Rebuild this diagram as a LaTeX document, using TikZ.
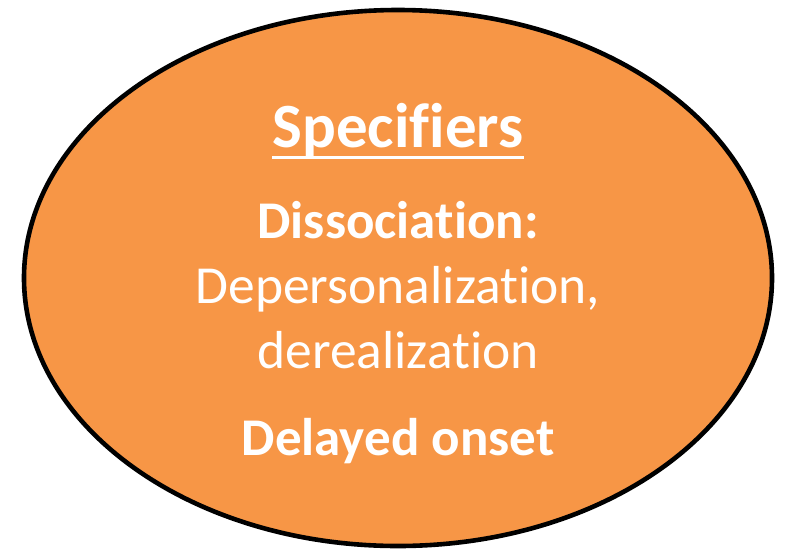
\documentclass[tikz,border=0pt]{standalone}
\usepackage{fontspec}
\setmainfont{Carlito}[Ligatures=NoCommon]
\usetikzlibrary{calc}
\definecolor{specorange}{HTML}{F79646}
\begin{document}
\begin{tikzpicture}[x=1pt,y=-1pt,
  label text/.style={text=white, anchor=base, inner sep=0pt},
  heading/.style={label text, font=\fontsize{63}{63}\selectfont\bfseries},
  boldline/.style={label text, font=\fontsize{53}{53}\selectfont\bfseries},
  plainline/.style={label text, font=\fontsize{53.5}{53.5}\selectfont}]
  \useasboundingbox (0,0) rectangle (787,550);
  % outer ellipse
  \draw[line width=4.6pt, fill=specorange] (398,278) ellipse [x radius=374, y radius=268];
  % heading with underline
  \node[heading] (title) at (398,147) {Specifiers};
  \draw[white, line width=3pt] ($(title.base west)+(0,10)$) -- ($(title.base east)+(0,10)$);
  % list of specifiers
  \node[boldline] (dissoc) at (398,238) {Dissociation:};
  \node[plainline] (deper) at (398,303) {Depersonalization,};
  \node[plainline] (dereal) at (398,368) {derealization};
  \node[boldline] (delayed) at (398,455) {Delayed onset};
\end{tikzpicture}
\end{document}
